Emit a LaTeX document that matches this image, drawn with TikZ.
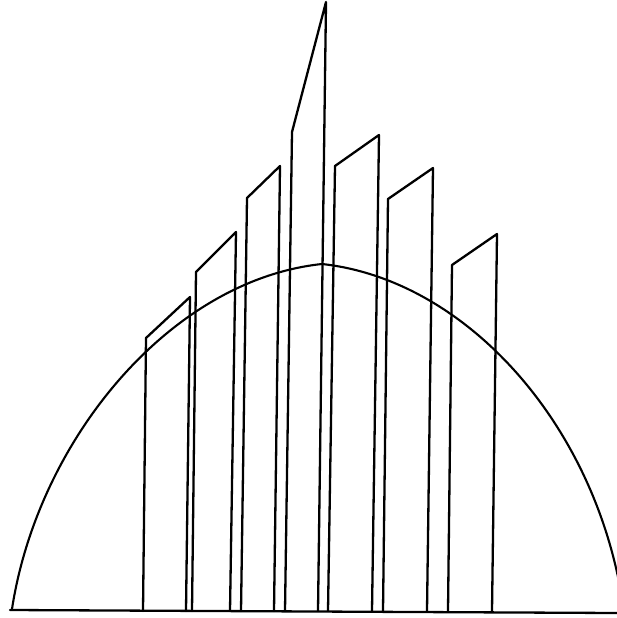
\documentclass[tikz,border=0pt]{standalone}
\usepackage{tikz}

\begin{document}
\begin{tikzpicture}[
    x=1pt, y=-1pt,
    outline/.style={line width=2.3pt, line join=round, line cap=round, draw=black},
    dome/.style={line width=2.1pt, draw=black}
]
\useasboundingbox (0,0) rectangle (617,618);
\clip (0,0) rectangle (617,618);

% ground line
\draw[outline] (10,610) -- (617,613);

% dome
\coordinate (top) at (322,264);
\draw[dome] (12,609) .. controls (38,440) and (170,280) .. (top);
\draw[dome] (top) .. controls (469,280) and (600,430) .. (624,612);

% slabs
\foreach \xa/\xb/\yb/\xc/\yc/\xd in {143/146/338/190/297/186, 192/196/272/236/232/230,
    241/247/198/280/166/274, 285/292/132/326/2/318, 328/335/166/379/135/372,
    383/388/199/433/168/427, 448/452/265/497/234/492}
  \draw[outline] (\xa,611) -- (\xb,\yb) -- (\xc,\yc) -- (\xd,611);

\end{tikzpicture}
\end{document}
